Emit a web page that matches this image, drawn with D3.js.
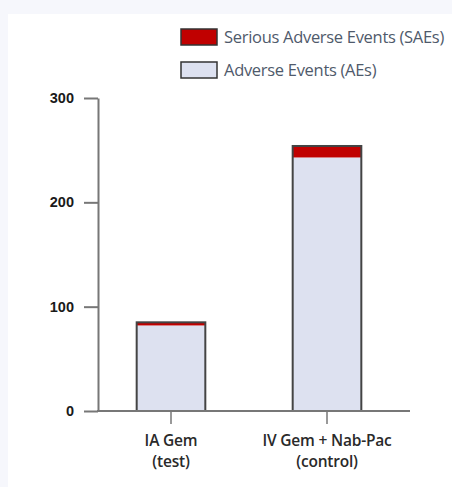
<!DOCTYPE html>
<html><head><meta charset="utf-8">
<script src="https://cdn.jsdelivr.net/npm/d3@7"></script>
<style>
html,body{margin:0;padding:0;background:#f6f7fc;}
svg{display:block;}
</style></head>
<body>
<svg id="chart" width="452" height="487"></svg>
<script>
const categories = ["IA Gem|(test)", "IV Gem + Nab-Pac|(control)"];
const aes = [82, 243];
const saes = [3, 11];
const yTicks = [0, 100, 200, 300];
const seriesNames = ["Serious Adverse Events (SAEs)", "Adverse Events (AEs)"];
const seriesColors = ["#c00000", "#dde1f0"];

const svg = d3.select("#chart");
svg.append("rect").attr("x", 8).attr("y", 14).attr("width", 444).attr("height", 473).attr("fill", "#ffffff");

const y = d3.scaleLinear().domain([0, 300]).range([411, 98]);
const x = d3.scaleBand().domain(categories).range([93, 405]).paddingInner(0.56).paddingOuter(0.28);

// axis
const yAxis = d3.axisLeft(y).tickValues(yTicks).tickSize(14).tickPadding(10).tickSizeOuter(0);
const ga = svg.append("g").attr("transform", "translate(98,0)").call(yAxis);
ga.select(".domain").attr("stroke", "#777").attr("stroke-width", 2);
ga.selectAll(".tick line").attr("stroke", "#777").attr("stroke-width", 2);
ga.selectAll(".tick text").attr("fill", "#1a1a1a").attr("font-family", "'Liberation Sans Narrow','Arial Narrow','Liberation Sans',sans-serif")
  .attr("font-weight", "bold").attr("font-size", 14.5);

// bars
const stack = categories.map((c, i) => ({c, ae: aes[i], sae: saes[i]}));
const bars = svg.append("g");
bars.selectAll("rect.ae").data(stack).join("rect")
  .attr("x", d => x(d.c)).attr("width", x.bandwidth())
  .attr("y", d => y(d.ae)).attr("height", d => y(0) - y(d.ae))
  .attr("fill", seriesColors[1]);
bars.selectAll("rect.sae").data(stack).join("rect")
  .attr("x", d => x(d.c)).attr("width", x.bandwidth())
  .attr("y", d => y(d.ae + d.sae)).attr("height", d => y(d.ae) - y(d.ae + d.sae))
  .attr("fill", seriesColors[0]);
bars.selectAll("rect.out").data(stack).join("rect")
  .attr("x", d => x(d.c)).attr("width", x.bandwidth())
  .attr("y", d => y(d.ae + d.sae)).attr("height", d => y(0) - y(d.ae + d.sae))
  .attr("fill", "none").attr("stroke", "#444").attr("stroke-width", 2);

// baseline
svg.append("line").attr("x1", 97).attr("x2", 410).attr("y1", y(0)).attr("y2", y(0))
  .attr("stroke", "#777").attr("stroke-width", 2);

// x ticks and labels
const xg = svg.append("g");
categories.forEach(c => {
  const cx = x(c) + x.bandwidth() / 2;
  xg.append("line").attr("x1", cx).attr("x2", cx).attr("y1", y(0) + 1).attr("y2", y(0) + 13)
    .attr("stroke", "#777").attr("stroke-width", 1.5);
  const lines = c.split("|");
  lines.forEach((t, j) => {
    xg.append("text").attr("x", cx).attr("y", 446 + j * 21).attr("text-anchor", "middle")
      .attr("font-family", "'Open Sans',sans-serif").attr("font-weight", "600").attr("font-size", 15.5)
      .attr("letter-spacing", -0.2).attr("fill", "#2a2a2a").text(t);
  });
});

// legend
const lg = svg.append("g");
seriesNames.forEach((n, i) => {
  const yy = 29 + i * 33;
  lg.append("rect").attr("x", 181).attr("y", yy).attr("width", 36).attr("height", 16)
    .attr("fill", seriesColors[i]).attr("stroke", "#333").attr("stroke-width", 1.5);
  lg.append("text").attr("x", 224).attr("y", yy + 14).attr("font-family", "'Open Sans',sans-serif")
    .attr("font-size", 16.5).attr("fill", "#4f5a6b").attr("letter-spacing", -0.3).text(n);
});
</script>
</body></html>
